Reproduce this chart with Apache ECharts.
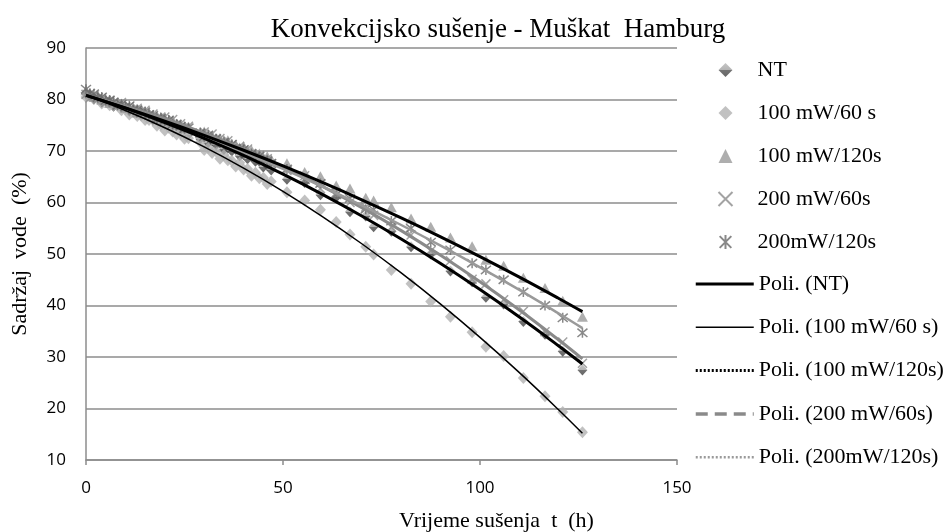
<!DOCTYPE html>
<html>
<head>
<meta charset="utf-8">
<script src="https://cdn.jsdelivr.net/npm/echarts@6/dist/echarts.min.js"></script>
<style>html,body{margin:0;padding:0;background:#fff;}#c{width:951px;height:532px;}</style>
</head>
<body>
<div id="c"></div>
<script>
// drying time t (h)
const times = [0,1,2,3,4,5,6,7,8,9,10,11,12,13,14,15,16,17,18,19,20,21,22,23,24,25,26,
  29,30,31,32,33,34,35,36,37,38,39,40,41,42,43,44,45,46,47,
  51,55.5,59.5,63.5,67,71,73,77.5,82.5,87.5,92.5,98,101.5,106,111,116.5,121,126];

const ntVals = [81.2,80.9,80.1,80.5,79.5,79.7,79.8,78.7,79.0,78.5,78.7,77.7,78.0,78.1,77.0,77.0,77.0,76.0,76.2,76.3,75.2,75.4,74.8,75.0,74.1,74.3,73.2,
  72.4,72.8,71.6,72.0,71.2,71.6,70.3,70.6,70.0,70.3,69.1,69.3,68.5,69.0,68.0,68.0,66.9,67.2,66.3,
  64.5,63.9,61.5,61.0,58.2,57.4,55.3,54.4,51.4,50.0,46.7,44.6,41.6,40.3,36.9,34.4,31.1,27.5];

const mw100s60Vals = [80.5,80.9,80.1,80.2,79.2,79.7,78.9,78.9,78.9,77.9,78.1,77.1,77.7,76.8,76.9,76.0,76.0,76.0,74.9,75.1,74.0,74.5,73.8,73.2,73.5,72.4,72.5,
  71.7,70.2,70.6,69.6,69.9,68.5,69.2,68.2,68.1,67.0,67.7,66.4,66.5,65.2,65.8,64.7,64.8,63.6,64.1,
  62.0,60.4,58.6,56.2,53.8,51.4,49.9,46.9,44.2,40.8,37.8,34.8,32.0,30.2,25.9,22.4,19.3,15.4];

const mw100s120Vals = [81.8,81.1,80.5,80.7,80.0,80.0,79.3,79.6,79.1,79.2,78.4,78.5,78.2,77.5,77.9,77.3,77.4,76.7,76.7,76.1,76.3,75.8,75.9,75.1,75.1,74.6,74.7,
  73.6,73.8,73.0,73.0,72.2,72.5,71.9,72.1,71.1,71.2,70.7,70.9,70.2,70.2,69.3,69.5,68.8,69.0,68.4,
  67.6,65.9,65.1,63.3,62.7,60.9,60.4,59.1,56.9,55.3,53.2,51.5,48.9,47.7,45.4,43.4,40.9,37.8];

const mw200s60Vals = [81.0,80.3,80.8,80.1,80.3,79.4,79.8,79.4,78.9,79.4,78.5,78.6,77.8,78.3,77.7,77.9,77.0,77.2,76.3,76.6,76.6,75.8,76.1,75.2,75.3,74.5,74.8,
  73.5,73.7,72.7,73.3,72.4,72.4,71.6,72.0,71.2,70.5,70.9,70.1,70.4,69.5,69.0,69.1,68.4,68.5,67.5,
  66.2,65.2,62.7,61.9,60.0,59.1,57.5,55.2,53.7,50.6,48.7,45.1,44.2,41.1,38.9,34.9,32.9,28.8];

const mw200s120Vals = [82.0,81.2,81.1,80.4,80.5,79.8,79.9,79.5,78.9,79.1,78.6,78.8,78.0,78.0,77.4,77.6,77.1,76.9,76.2,76.4,75.9,76.0,75.2,75.2,74.8,74.3,74.5,
  73.5,72.8,73.1,72.4,72.4,71.5,71.7,71.2,71.3,70.4,70.4,70.3,69.3,69.5,69.0,69.0,68.2,68.1,67.6,
  66.5,64.4,63.7,61.5,60.8,58.7,58.6,56.4,55.0,52.3,50.8,48.2,46.9,45.0,42.6,40.0,37.6,34.7];

// polynomial trend lines
const trendT = [0,10,20,30,40,50,60,70,80,90,100,110,120,126];
const ntTrend = [80.8,78.31,75.53,72.47,69.13,65.50,61.59,57.39,52.91,48.15,43.10,37.77,32.15,28.65];
const mw100s60Trend = [80.8,77.86,74.52,70.80,66.68,62.18,57.28,51.99,46.32,40.26,33.80,26.96,19.72,15.19];
const mw100s120Trend = [80.8,78.37,75.79,73.05,70.15,67.10,63.89,60.53,57.01,53.33,49.50,45.51,41.37,38.81];
const mw200s60Trend = [80.8,78.70,76.26,73.49,70.38,66.93,63.14,59.01,54.54,49.74,44.60,39.12,33.30,29.65];
const mw200s120Trend = [80.8,78.32,75.66,72.80,69.75,66.51,63.07,59.45,55.63,51.62,47.42,43.03,38.44,35.60];

const yTicks = [10,20,30,40,50,60,70,80,90];
const xTicks = [0,50,100,150];

const pointNames = ['NT','100 mW/60 s','100 mW/120s','200 mW/60s','200mW/120s'];
const lineNames = ['Poli. (NT)','Poli. (100 mW/60 s)','Poli. (100 mW/120s)','Poli. (200 mW/60s)','Poli. (200mW/120s)'];

const pairs = (xs, ys) => xs.map((x, i) => [x, ys[i]]);

const serif = '"Liberation Serif", "Times New Roman", serif';
const sans = '"Open Sans", "Liberation Sans", sans-serif';

const ntGrad = new echarts.graphic.LinearGradient(0,0,0,1,[
  {offset:0,color:'#b8b8b8'},{offset:0.5,color:'#a0a0a0'},{offset:0.5,color:'#505050'},{offset:1,color:'#404040'}]);

const xPath = 'path://M0,0L10,10M10,0L0,10';
const starPath = 'path://M0,0L10,10M10,0L0,10M5,-1L5,11';

const chart = echarts.init(document.getElementById('c'), null, {renderer:'canvas'});

const series = [
  {name: pointNames[0], type:'scatter', symbol:'diamond', symbolSize:[10,11], data: pairs(times, ntVals),
   itemStyle:{color: ntGrad}, z:2},
  {name: pointNames[1], type:'scatter', symbol:'diamond', symbolSize:[11,12], data: pairs(times, mw100s60Vals),
   itemStyle:{color:'#b2b2b2'}, z:2},
  {name: pointNames[2], type:'scatter', symbol:'triangle', symbolSize:[11,10], data: pairs(times, mw100s120Vals),
   itemStyle:{color:'#9a9a9a'}, z:2},
  {name: pointNames[3], type:'scatter', symbol: xPath, symbolSize:9, data: pairs(times, mw200s60Vals),
   itemStyle:{color:'none', borderColor:'#8c8c8c', borderWidth:1.5}, z:2},
  {name: pointNames[4], type:'scatter', symbol: starPath, symbolSize:10, data: pairs(times, mw200s120Vals),
   itemStyle:{color:'none', borderColor:'#6a6a6a', borderWidth:1.5}, z:2},
  {name: lineNames[0], type:'line', smooth:0.4, symbol:'none', data: pairs(trendT, ntTrend),
   lineStyle:{color:'#000', width:3}, itemStyle:{color:'#000'}, z:5},
  {name: lineNames[1], type:'line', smooth:0.4, symbol:'none', data: pairs(trendT, mw100s60Trend),
   lineStyle:{color:'#000', width:1.5}, itemStyle:{color:'#000'}, z:5},
  {name: lineNames[2], type:'line', smooth:0.4, symbol:'none', data: pairs(trendT, mw100s120Trend),
   lineStyle:{color:'#000', width:3}, itemStyle:{color:'#000'}, z:5},
  {name: lineNames[3], type:'line', smooth:0.4, symbol:'none', data: pairs(trendT, mw200s60Trend),
   lineStyle:{color:'#8a8a8a', width:3}, itemStyle:{color:'#8a8a8a'}, z:4},
  {name: lineNames[4], type:'line', smooth:0.4, symbol:'none', data: pairs(trendT, mw200s120Trend),
   lineStyle:{color:'#9a9a9a', width:2.5}, itemStyle:{color:'#9a9a9a'}, z:4}
];

const hidden = {opacity:0, color:'transparent', borderColor:'transparent'};
const lineLegendData = [
  {name: lineNames[0], lineStyle:{type:'solid', width:3, color:'#000'}, itemStyle:hidden},
  {name: lineNames[1], lineStyle:{type:'solid', width:1.5, color:'#000'}, itemStyle:hidden},
  {name: lineNames[2], lineStyle:{type:[2,2], width:3, color:'#000'}, itemStyle:hidden},
  {name: lineNames[3], lineStyle:{type:[12,7], width:3.5, color:'#8a8a8a'}, itemStyle:hidden},
  {name: lineNames[4], lineStyle:{type:[2,2], width:2.5, color:'#9a9a9a'}, itemStyle:hidden}
];

const legendText = {fontFamily:serif, fontSize:22, color:'#000', lineHeight:22};

chart.setOption({
  animation:false,
  backgroundColor:'#fff',
  title:{text:'Konvekcijsko sušenje - Muškat  Hamburg', left:493, textAlign:'center', top:11,
    textStyle:{fontFamily:serif, fontSize:27, fontWeight:'normal', color:'#000'}},
  grid:{left:86, right:274, top:48, bottom:72, outerBoundsMode:'none', containLabel:false},
  legend:[
    {orient:'vertical', left:716, top:59, padding:0, itemWidth:14, itemHeight:14, itemGap:21,
     data: pointNames, selectedMode:false,
     textStyle:Object.assign({padding:[0,0,0,20]}, legendText)},
    {orient:'vertical', left:694, top:273, padding:0, itemWidth:58, itemHeight:12, itemGap:21.3,
     data: lineLegendData, selectedMode:false, itemStyle:hidden,
     textStyle:Object.assign({padding:[0,0,0,0]}, legendText)}
  ],
  xAxis:{type:'value', min:xTicks[0], max:xTicks[xTicks.length-1], interval:50,
    name:'Vrijeme sušenja  t  (h)', nameLocation:'middle', nameGap:50,
    nameTextStyle:{fontFamily:serif, fontSize:22, color:'#000', padding:[0,0,0,230]},
    axisLine:{show:true, lineStyle:{color:'#8c8c8c', width:1.5}},
    axisTick:{show:true, length:5, lineStyle:{color:'#8c8c8c', width:1.5}},
    axisLabel:{fontFamily:sans, fontSize:17, color:'#000', margin:20},
    splitLine:{show:false}},
  yAxis:{type:'value', min:yTicks[0], max:yTicks[yTicks.length-1], interval:10,
    name:'Sadržaj  vode  (%)', nameLocation:'middle', nameGap:55, nameRotate:90,
    nameTextStyle:{fontFamily:serif, fontSize:22, color:'#000'},
    axisLine:{show:true, lineStyle:{color:'#8c8c8c', width:1.5}},
    axisTick:{show:false},
    axisLabel:{fontFamily:sans, fontSize:17, color:'#000', margin:20},
    splitLine:{show:true, lineStyle:{color:'#8c8c8c', width:1.5}}},
  series: series
});
</script>
</body>
</html>
